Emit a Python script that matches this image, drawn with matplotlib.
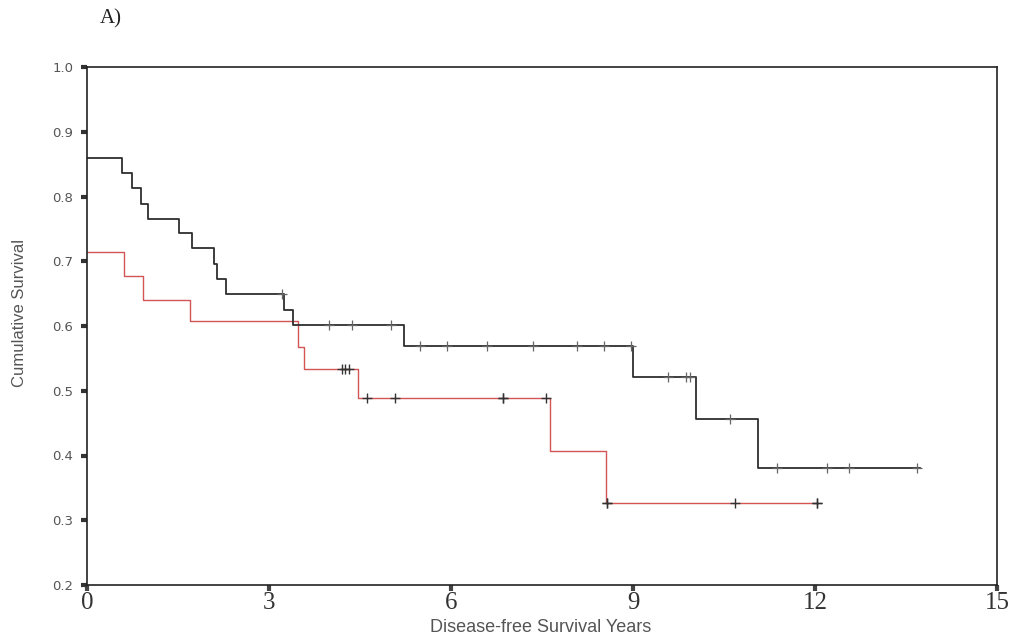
import numpy as np
import matplotlib
matplotlib.use("Agg")
import matplotlib.pyplot as plt


# Kaplan-Meier step data (years, survival)
black_times = [0, 0.58, 0.74, 0.89, 1.00, 1.52, 1.73, 2.09, 2.14, 2.29, 3.25, 3.40, 5.22, 9.00, 10.04, 11.06]
black_surv = [0.860, 0.837, 0.813, 0.789, 0.766, 0.744, 0.720, 0.696, 0.673, 0.649, 0.625, 0.601, 0.569, 0.521, 0.456, 0.381]
black_end = 13.73
black_censor = [3.22, 3.99, 4.37, 5.01, 5.49, 5.93, 6.59, 7.35, 8.08, 8.52, 8.97,
                9.58, 9.87, 9.94, 10.60, 11.37, 12.20, 12.56, 13.68]

red_times = [0, 0.61, 0.92, 1.70, 3.48, 3.57, 4.47, 7.63, 8.55]
red_surv = [0.714, 0.677, 0.640, 0.607, 0.568, 0.534, 0.489, 0.407, 0.327]
red_end = 12.03
red_censor = [4.20, 4.25, 4.32, 4.61, 5.08, 6.86, 6.86, 7.57, 8.57, 8.57, 10.68, 12.03, 12.03]

xticks = [0, 3, 6, 9, 12, 15]
yticks = [0.2, 0.3, 0.4, 0.5, 0.6, 0.7, 0.8, 0.9, 1.0]


def km_line(times, surv, end):
    # extend the last level to the last follow-up time
    return list(times) + [end], list(surv) + [surv[-1]]


def censor_levels(times, surv, cens):
    idx = np.searchsorted(times, cens, side="right") - 1
    return np.array(surv)[idx]


fig = plt.figure(figsize=(10.26, 6.39), dpi=100)
ax = fig.add_axes([87 / 1026, 1 - 585 / 639, 910 / 1026, 518 / 639])

bx, by = km_line(black_times, black_surv, black_end)
rx, ry = km_line(red_times, red_surv, red_end)

ax.step(rx, ry, where="post", color="#d45555", lw=1.0)
ax.step(bx, by, where="post", color="#2e2e2e", lw=1.3)

ax.plot(black_censor, censor_levels(black_times, black_surv, black_censor),
        linestyle="none", marker="+", markersize=7, mew=0.9, color="#666666")
ax.plot(red_censor, censor_levels(red_times, red_surv, red_censor),
        linestyle="none", marker="+", markersize=7, mew=1.0, color="#333333")

ax.set_xlim(0, 15)
ax.set_ylim(0.2, 1.0)

ax.set_xticks(xticks)
ax.set_xticklabels([str(t) for t in xticks], fontfamily="Liberation Serif",
                   fontsize=18, color="#333333")
ax.set_yticks(yticks)
ax.set_yticklabels(["%.1f" % t for t in yticks], fontfamily="DejaVu Sans",
                   fontsize=9.5, color="#555555")

ax.tick_params(axis="y", direction="out", length=4, width=3, color="#333333", pad=6)
ax.tick_params(axis="x", direction="out", length=4, width=3, color="#444444", pad=1)

for s in ax.spines.values():
    s.set_color("#222222")
    s.set_linewidth(1.2)

fig.text(541 / 1026, 1 - 628 / 639, "Disease-free Survival Years", ha="center", va="center",
         fontfamily="Liberation Sans", fontsize=13, color="#555555")
fig.text(20 / 1026, 1 - 313 / 639, "Cumulative Survival", ha="center", va="center",
         rotation=90, fontfamily="Liberation Sans", fontsize=12, color="#555555")
fig.text(100 / 1026, 1 - 19 / 639, "A)", ha="left", va="center",
         fontfamily="Liberation Serif", fontsize=15, color="#222222")

fig.savefig("out.png", dpi=100, facecolor="white")
